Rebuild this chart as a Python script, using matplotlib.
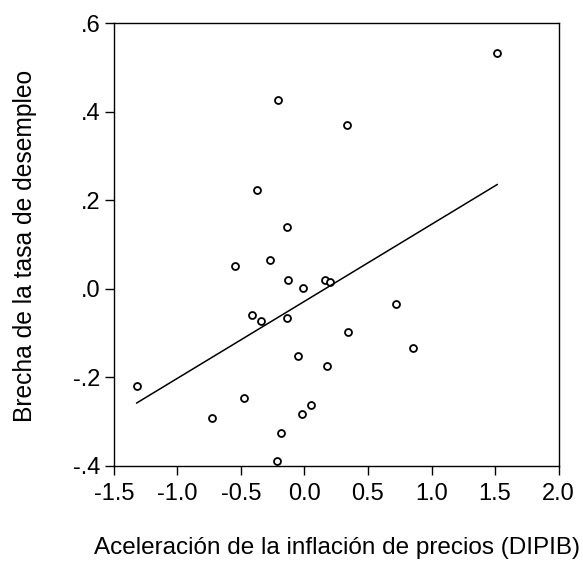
import numpy as np
import matplotlib
matplotlib.use("Agg")
import matplotlib.pyplot as plt

x_vals = [1.517, -0.208, 0.333, -0.375, -0.137, -0.550, -0.270, -0.131, -0.008,
          0.165, 0.199, 0.723, -0.417, -0.346, -0.139, 0.340, 0.854, -0.050,
          0.181, -1.321, -0.475, -0.729, 0.055, -0.016, -0.186, -0.215]
y_vals = [0.534, 0.426, 0.371, 0.223, 0.139, 0.051, 0.065, 0.019, 0.001,
          0.019, 0.016, -0.035, -0.059, -0.072, -0.065, -0.097, -0.133, -0.151,
          -0.174, -0.219, -0.247, -0.291, -0.263, -0.282, -0.325, -0.389]
x_ticks = [-1.5, -1.0, -0.5, 0.0, 0.5, 1.0, 1.5, 2.0]
x_ticklabels = ["-1.5", "-1.0", "-0.5", "0.0", "0.5", "1.0", "1.5", "2.0"]
y_ticks = [-0.4, -0.2, 0.0, 0.2, 0.4, 0.6]
y_ticklabels = ["-.4", "-.2", ".0", ".2", ".4", ".6"]
x_label = "Aceleración de la inflación de precios (DIPIB)"
y_label = "Brecha de la tasa de desempleo"

plt.rcParams['font.family'] = ['Liberation Sans', 'DejaVu Sans']

fig = plt.figure(figsize=(5.83, 5.68), dpi=100)
ax = fig.add_axes([0.1955, 0.1796, 0.7625, 0.7794])

xa = np.array(x_vals)
ya = np.array(y_vals)
ax.plot(xa, ya, linestyle='none', marker='o', markersize=5, markerfacecolor='white',
        markeredgecolor='black', markeredgewidth=1.3)
slope, intercept = np.polyfit(xa, ya, 1)
xl = np.array([xa.min(), xa.max()])
ax.plot(xl, intercept + slope * xl, color='black', linewidth=1.1)

ax.set_xlim(-1.5, 2.0)
ax.set_ylim(-0.4, 0.6)
ax.set_xticks(x_ticks)
ax.set_xticklabels(x_ticklabels)
ax.set_yticks(y_ticks)
ax.set_yticklabels(y_ticklabels)
ax.tick_params(direction='out', length=6.5, width=1.0, labelsize=17)
ax.tick_params(axis='x', pad=6)
ax.tick_params(axis='y', pad=3)
for s in ax.spines.values():
    s.set_linewidth(1.0)

fig.text(337.5 / 583, 1 - 548 / 568, x_label, ha='center', va='center', fontsize=17.5)
fig.text(25 / 583, 1 - 245.5 / 568, y_label, ha='center', va='center',
         rotation=90, fontsize=17.7)

fig.savefig("out.png", dpi=100)
